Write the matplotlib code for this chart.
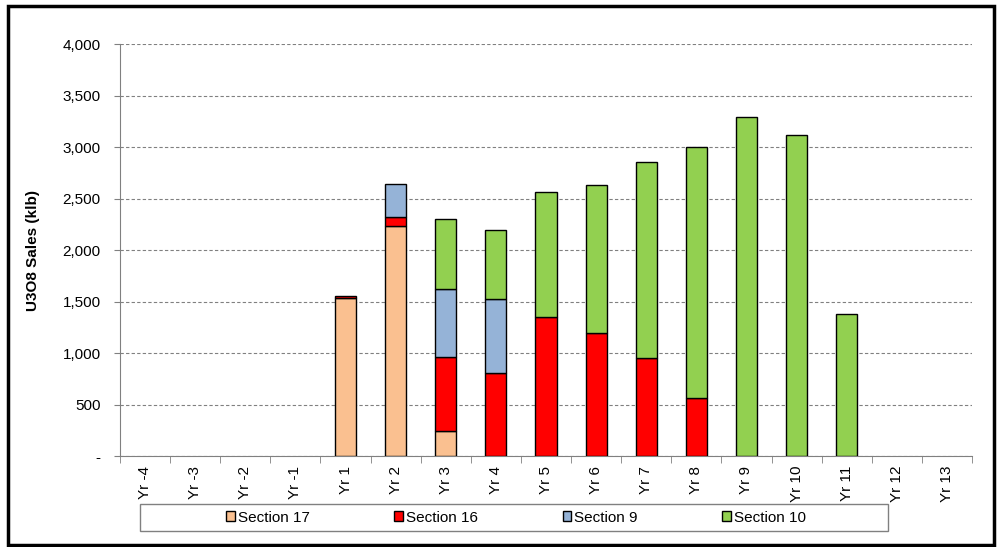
import matplotlib
matplotlib.use("Agg")
import matplotlib.pyplot as plt
from matplotlib.patches import Rectangle
import numpy as np

categories = ["Yr -4", "Yr -3", "Yr -2", "Yr -1", "Yr 1", "Yr 2", "Yr 3", "Yr 4", "Yr 5",
              "Yr 6", "Yr 7", "Yr 8", "Yr 9", "Yr 10", "Yr 11", "Yr 12", "Yr 13"]
section17 = [0, 0, 0, 0, 1540, 2240, 240, 0, 0, 0, 0, 0, 0, 0, 0, 0, 0]
section16 = [0, 0, 0, 0, 20, 85, 720, 810, 1350, 1200, 950, 570, 0, 0, 0, 0, 0]
section9 = [0, 0, 0, 0, 0, 315, 660, 720, 0, 0, 0, 0, 0, 0, 0, 0, 0]
section10 = [0, 0, 0, 0, 0, 0, 680, 670, 1220, 1430, 1910, 2430, 3290, 3120, 1380, 0, 0]
series_names = ["Section 17", "Section 16", "Section 9", "Section 10"]
colors = ["#FAC090", "#FF0000", "#95B3D7", "#92D050"]

plt.rcParams['font.family'] = ['Liberation Sans', 'DejaVu Sans']
FS = 11
fig = plt.figure(figsize=(10, 5.47), dpi=100)
fig.patches.append(Rectangle((0.008, 0.004), 0.986, 0.985, transform=fig.transFigure,
                             fill=False, edgecolor="black", linewidth=2.5))
ax = fig.add_axes([0.12, 0.166, 0.852, 0.753])

x = np.arange(len(categories))
bottom = np.zeros(len(categories))
handles = []
for name, vals, c in zip(series_names, [section17, section16, section9, section10], colors):
    vals = np.array(vals, dtype=float)
    m = vals > 0
    h = ax.bar(x[m], vals[m], width=0.42, bottom=bottom[m], color=c, edgecolor="black",
               linewidth=1.0, label=name, zorder=3)
    handles.append(h)
    bottom += vals

ax.set_xlim(-0.5, len(categories) - 0.5)
ax.set_ylim(0, 4000)
ax.set_yticks(np.arange(0, 4001, 500))
ax.set_yticklabels(["-"] + [f"{v:,}" for v in range(500, 4001, 500)], fontsize=FS)
ax.yaxis.grid(True, linestyle=(0, (3, 2)), color="#808080", linewidth=0.8, zorder=0)
ax.set_ylabel("U3O8 Sales (klb)", fontsize=FS, fontweight="bold", labelpad=16)
ax.set_xticks(x)
ax.set_xticklabels(categories, rotation=90, fontsize=FS)
ax.tick_params(axis="x", length=0, pad=7)
ax.set_xticks(np.arange(-0.5, len(categories), 1), minor=True)
ax.tick_params(axis="x", which="minor", length=5, color="#808080", direction="out")
ax.tick_params(axis="y", length=4, color="#808080", direction="out", pad=10)
for s in ["top", "right"]:
    ax.spines[s].set_visible(False)
for s in ["left", "bottom"]:
    ax.spines[s].set_color("#808080")

# legend frame
fig.patches.append(Rectangle((0.140, 1 - 531 / 547), 0.748, 27 / 547, transform=fig.transFigure,
                             fill=False, edgecolor="#808080", linewidth=1.0))
leg = fig.legend(handles=handles, labels=series_names, loc="center",
                 bbox_to_anchor=(0.516, 1 - 517.5 / 547), ncol=4, fontsize=FS,
                 frameon=False, handlelength=0.55, handleheight=0.55, handletextpad=0.2,
                 columnspacing=5.55, borderpad=0.2)

fig.savefig("out.png", dpi=100)
